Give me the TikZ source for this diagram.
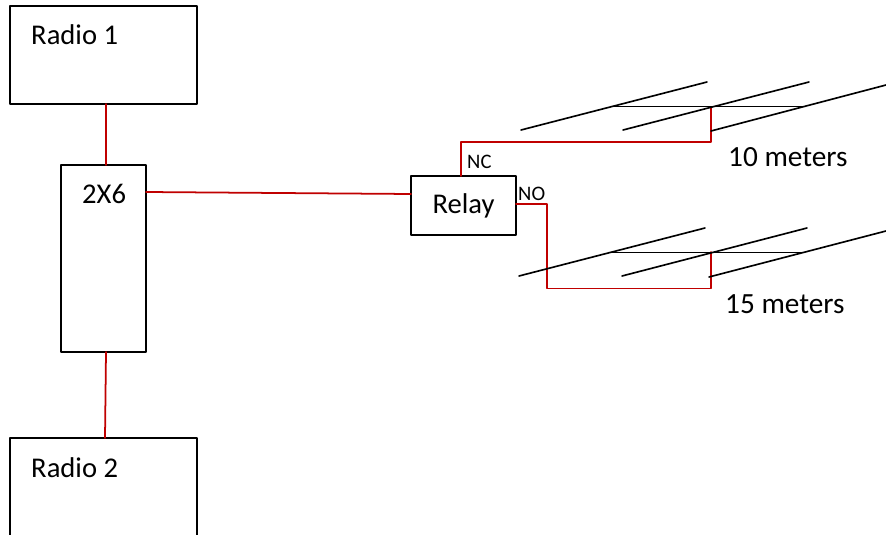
\documentclass[tikz,border=0pt]{standalone}
\usepackage{fontspec}
\setmainfont{Carlito}
\definecolor{feedred}{HTML}{C00000}
\tikzset{
	unit/.style={draw=black, line width=1.5pt, fill=white, inner sep=0pt, outer sep=0pt},
	tag/.style={anchor=base west, inner sep=0pt, font=\fontsize{24.4}{28}\selectfont},
	bigtag/.style={anchor=base west, inner sep=0pt, font=\fontsize{25}{28}\selectfont},
	smalltag/.style={anchor=base west, inner sep=0pt, font=\fontsize{17.6}{20}\selectfont},
	feed/.style={draw=feedred, line width=1.5pt},
	element/.style={draw=black, line width=1.4pt}
}
\begin{document}
\begin{tikzpicture}[x=0.03cm, y=-0.03cm, line join=round, line cap=round]
	\useasboundingbox (0,0) rectangle (886,535);
	\clip (0,0) rectangle (886,535);
	% radios, switch and relay
	\node[unit, minimum width=5.61cm, minimum height=2.94cm] (radioa) at (103.5,55) {};
	\node[unit, minimum width=5.61cm, minimum height=3.6cm] (radiob) at (103.5,498) {};
	\node[unit, minimum width=2.55cm, minimum height=5.61cm] (switch) at (103.5,258.5) {};
	\node[unit, minimum width=3.15cm, minimum height=1.77cm, font=\fontsize{24.4}{28}\selectfont] (relay) at (463.5,205.5) {Relay};
	\path (31,45)node[tag] (radioatext) {Radio 1};
	\path (31,477)node[tag] (radiobtext) {Radio 2};
	\path (82,203)node[tag] (switchtext) {2X6};
	\path (467,168)node[smalltag] (nctext) {NC};
	\path (518,200)node[smalltag] (notext) {NO};
	\path (728,167)node[bigtag] (tentext) {10 meters};
	\path (725,313)node[bigtag] (fifteentext) {15 meters};
	% red feed lines
	\coordinate (tenfeed) at (711,107);
	\coordinate (fifteenfeed) at (711,252);
	\coordinate (radioaout) at (106,104);
	\coordinate (switchtop) at (106,165);
	\coordinate (switchbot) at (106,352);
	\coordinate (radiobin) at (105,438);
	\coordinate (switchout) at (146,192);
	\coordinate (relayin) at (411,194);
	\coordinate (relaync) at (461,176);
	\coordinate (relayno) at (516,204);
	\draw[feed] (radioaout)--(switchtop);
	\draw[feed] (switchbot)--(radiobin);
	\draw[feed] (switchout)--(relayin);
	\draw[feed] (relaync)--(461,142)--(711,142)--(tenfeed);
	\draw[feed] (relayno)--(547,204)--(547,288.5)--(711,288.5)--(fifteenfeed);
	% antenna for 10 meters
	\draw[element] (521,130)--(707,82);
	\draw[element] (623,130)--(809,82);
	\draw[element] (711,131)--(886,85);
	\draw[element] (612,106.5)--(805,106.5);
	% antenna for 15 meters
	\draw[element] (519,276)--(705,228);
	\draw[element] (622,276)--(807,228);
	\draw[element] (709,277)--(886,231);
	\draw[element] (611,252.5)--(803,252.5);
\end{tikzpicture}
\end{document}
